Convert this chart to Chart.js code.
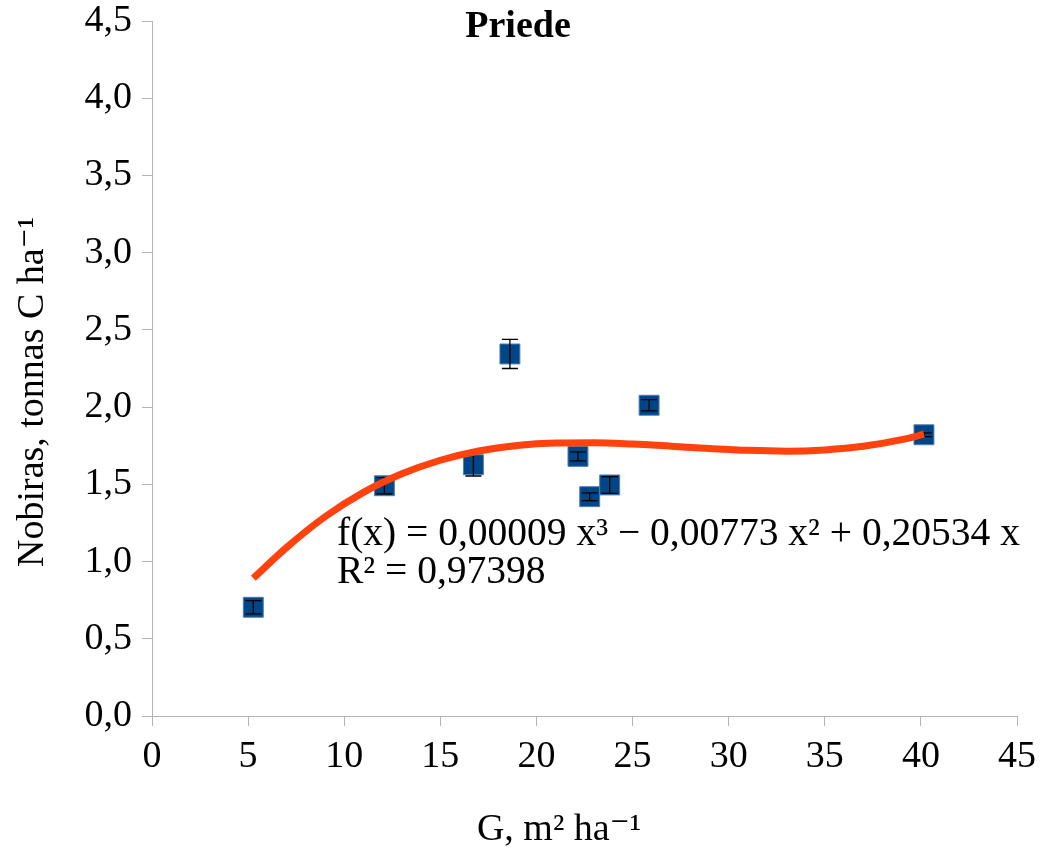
<!DOCTYPE html>
<html><head><meta charset="utf-8">
<script src="https://cdn.jsdelivr.net/npm/chart.js@4/dist/chart.umd.min.js"></script>
<style>html,body{margin:0;padding:0;background:#fff}#wrap{width:1040px;height:848px}</style>
</head><body><div id="wrap"><canvas id="c" width="1040" height="848" style="width:1040px;height:848px"></canvas></div>
<script>
const pointX = [5.27, 12.09, 16.72, 18.62, 22.16, 22.77, 23.81, 25.86, 40.16];
const pointY = [0.704, 1.491, 1.627, 2.344, 1.681, 1.420, 1.496, 2.012, 1.821];
const pointErr = [0.043, 0.052, 0.073, 0.094, 0.029, 0.025, 0.054, 0.036, 0.012];
const trendX = [5.27, 7, 9, 11, 13, 15, 17, 19, 21, 23, 25, 27, 29, 31, 33, 35, 37, 39, 40.16];
const trendY = [0.892, 1.091, 1.290, 1.448, 1.568, 1.656, 1.716, 1.752, 1.768, 1.770, 1.761, 1.747, 1.732, 1.720, 1.715, 1.723, 1.746, 1.789, 1.825];
const xTickValues = [0, 5, 10, 15, 20, 25, 30, 35, 40, 45];
const yTickValues = [0, 0.5, 1, 1.5, 2, 2.5, 3, 3.5, 4, 4.5];
const titleText = 'Priede';
const xTitleParts = ['G, m² ha', '⁻', '¹'];
const yTitleParts = ['Nobiras, tonnas C ha', '⁻', '¹'];
const equationLines = ['f(x) = 0,00009 x³ − 0,00773 x² + 0,20534 x', 'R² = 0,97398'];

const FONT = "'Liberation Serif', 'Times New Roman', serif";
const SUPFONT = "'DejaVu Sans', sans-serif";
const AXIS = '#b3b3b3';

const errorBars = {
  id: 'errorBars',
  afterDatasetDraw(chart, args) {
    if (args.index !== 0) return;
    const ctx = chart.ctx, xs = chart.scales.x, ys = chart.scales.y;
    ctx.save();
    ctx.strokeStyle = '#000';
    ctx.lineWidth = 1.3;
    pointX.forEach((x, i) => {
      const px = xs.getPixelForValue(x);
      const top = ys.getPixelForValue(pointY[i] + pointErr[i]);
      const bot = ys.getPixelForValue(pointY[i] - pointErr[i]);
      ctx.beginPath();
      ctx.moveTo(px, top); ctx.lineTo(px, bot);
      ctx.moveTo(px - 8, top); ctx.lineTo(px + 8, top);
      ctx.moveTo(px - 8, bot); ctx.lineTo(px + 8, bot);
      ctx.stroke();
    });
    ctx.restore();
  }
};

function partsFonts(size) {
  return ['' + size + 'px ' + FONT, '' + size + 'px ' + SUPFONT, '' + size + 'px ' + FONT];
}
function measureParts(ctx, parts, fonts) {
  let w = 0;
  parts.forEach((p, i) => { ctx.font = fonts[i]; w += ctx.measureText(p).width; });
  return w;
}
function drawParts(ctx, parts, fonts, x, y) {
  let cx = x;
  parts.forEach((p, i) => { ctx.font = fonts[i]; ctx.fillText(p, cx, y); cx += ctx.measureText(p).width; });
}

const texts = {
  id: 'texts',
  afterDraw(chart) {
    const ctx = chart.ctx;
    ctx.save();
    ctx.fillStyle = '#000';
    ctx.textBaseline = 'alphabetic';
    ctx.font = 'bold 38px ' + FONT;
    ctx.textAlign = 'center';
    ctx.fillText(titleText, 518, 37);
    ctx.textAlign = 'left';
    const f = partsFonts(38);
    const wx = measureParts(ctx, xTitleParts, f);
    drawParts(ctx, xTitleParts, f, 559 - wx / 2, 840);
    ctx.save();
    ctx.translate(43, 567);
    ctx.rotate(-Math.PI / 2);
    drawParts(ctx, yTitleParts, f, 0, 0);
    ctx.restore();
    ctx.font = '39.5px ' + FONT;
    ctx.fillText(equationLines[0], 337, 545);
    ctx.fillText(equationLines[1], 337, 583);
    ctx.restore();
  }
};

new Chart(document.getElementById('c'), {
  type: 'scatter',
  data: {
    datasets: [
      {
        label: 'Priede',
        data: pointX.map((x, i) => ({x, y: pointY[i]})),
        pointStyle: 'rect',
        pointRadius: 14.1,
        pointHoverRadius: 14.1,
        backgroundColor: '#004586',
        borderColor: '#4d7fb3',
        borderWidth: 1,
        order: 1
      },
      {
        type: 'line',
        label: 'trend',
        data: trendX.map((x, i) => ({x, y: trendY[i]})),
        showLine: true,
        borderColor: '#ff420e',
        borderWidth: 7,
        pointRadius: 0,
        cubicInterpolationMode: 'monotone',
        fill: false,
        order: 0
      }
    ]
  },
  options: {
    responsive: false,
    animation: false,
    devicePixelRatio: 1,
    layout: {padding: {top: 21, right: 23, bottom: 0, left: 0}},
    plugins: {legend: {display: false}, tooltip: {enabled: false}, title: {display: false}},
    scales: {
      x: {
        type: 'linear', min: 0, max: 45,
        afterBuildTicks: s => { s.ticks = xTickValues.map(v => ({value: v})); },
        afterFit: s => { s.height = 132; s.paddingLeft = 0; s.paddingRight = 0; },
        grid: {drawOnChartArea: false, drawTicks: true, tickLength: 10, color: AXIS, lineWidth: 1},
        border: {display: true, color: AXIS, width: 1},
        ticks: {color: '#000', font: {family: FONT, size: 38, lineHeight: 1.0}, padding: 12, maxRotation: 0, autoSkip: false,
          callback: v => String(v)}
      },
      y: {
        type: 'linear', min: 0, max: 4.5,
        afterBuildTicks: s => { s.ticks = yTickValues.map(v => ({value: v})); },
        afterFit: s => { s.width = 152; s.paddingTop = 0; s.paddingBottom = 0; },
        grid: {drawOnChartArea: false, drawTicks: true, tickLength: 10, color: AXIS, lineWidth: 1},
        border: {display: true, color: AXIS, width: 1},
        ticks: {color: '#000', font: {family: FONT, size: 38, lineHeight: 1.0}, padding: 10, autoSkip: false,
          callback: v => v.toFixed(1).replace('.', ',')}
      }
    }
  },
  plugins: [errorBars, texts]
});
</script></body></html>
